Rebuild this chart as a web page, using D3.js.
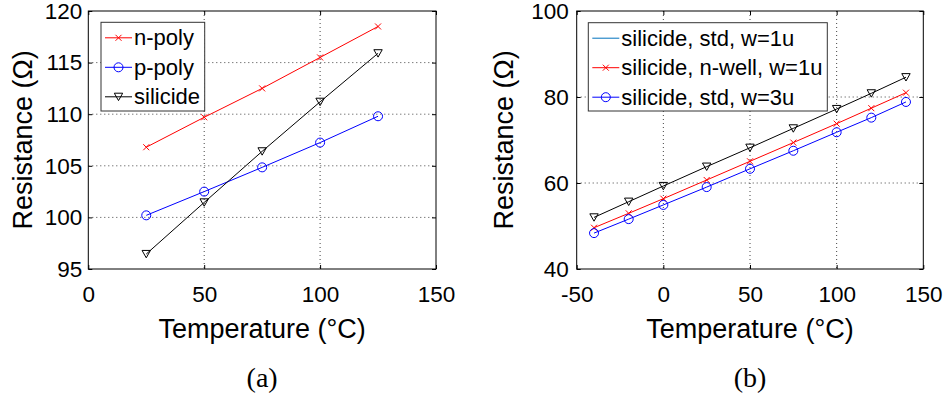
<!DOCTYPE html>
<html lang="en">
<head>
    <meta charset="UTF-8">
    <title>resistance-vs-temperature</title>
    <style>
        body {
            margin: 0;
            background: white;
        }
        svg text {
            font-family: "Liberation Sans", Arial, Helvetica, sans-serif;
            fill: #000;
        }
        .caption {
            font-family: "Liberation Serif", "DejaVu Serif", serif !important;
        }
    </style>
    <script src="https://d3js.org/d3.v7.min.js"></script>
</head>
<body>
<script>

    // ---- data ----
    let tempA = [25, 50, 75, 100, 125];
    let nPoly = [106.8, 109.7, 112.5, 115.5, 118.5];
    let pPoly = [100.2, 102.5, 104.85, 107.25, 109.8];
    let silicideA = [96.45, 101.45, 106.4, 111.2, 115.9];

    let tempB = [-40, -20, 0, 25, 50, 75, 100, 120, 140];
    let stdW1 = [52.0, 55.65, 59.3, 63.8, 68.2, 72.7, 77.2, 80.85, 84.6];
    let nwellW1 = [49.6, 52.95, 56.35, 60.7, 65.05, 69.4, 73.8, 77.4, 81.0];
    let stdW3 = [48.35, 51.6, 54.9, 59.05, 63.3, 67.5, 71.8, 75.2, 78.85];

    let xTicksA = [0, 50, 100, 150];
    let yTicksA = [95, 100, 105, 110, 115, 120];
    let xTicksB = [-50, 0, 50, 100, 150];
    let yTicksB = [40, 60, 80, 100];

    let width = 947;
    let height = 400;

    let svg = d3.select("body").append("svg")
        .attr("width", width)
        .attr("height", height);

    svg.append("rect")
        .attr("width", width)
        .attr("height", height)
        .attr("fill", "white");

    // plain hyphen for negatives, like the original
    let plainFormat = function (d) { return String(d); };

    // draws one marker shape at (0,0) inside group g
    function drawMarker(g, type, color) {
        if (type === "x") {
            g.append("path")
                .attr("d", "M-3,-3L3,3M-3,3L3,-3")
                .attr("stroke", color)
                .attr("stroke-width", 1)
                .attr("fill", "none");
        } else if (type === "o") {
            g.append("circle")
                .attr("r", 4.5)
                .attr("stroke", color)
                .attr("stroke-width", 1)
                .attr("fill", "none");
        } else if (type === "v") {
            g.append("path")
                .attr("d", "M-4.2,-3.6L4.2,-3.6L0,3.8Z")
                .attr("stroke", color)
                .attr("stroke-width", 1)
                .attr("fill", "none");
        }
    }

    function panel(opt) {
        let x = d3.scaleLinear().domain(opt.xDomain).range([opt.left, opt.right]);
        let y = d3.scaleLinear().domain(opt.yDomain).range([opt.bottom, opt.top]);
        let g = svg.append("g");

        // grid (dotted)
        g.selectAll(".gx")
            .data(opt.xTicks.filter(function (d) { return d !== opt.xDomain[0] && d !== opt.xDomain[1]; }))
            .enter().append("line")
            .attr("x1", function (d) { return x(d); })
            .attr("x2", function (d) { return x(d); })
            .attr("y1", opt.top)
            .attr("y2", opt.bottom)
            .attr("stroke", "#444")
            .attr("stroke-width", 1)
            .attr("stroke-dasharray", "1,3");
        g.selectAll(".gy")
            .data(opt.yTicks.filter(function (d) { return d !== opt.yDomain[0] && d !== opt.yDomain[1]; }))
            .enter().append("line")
            .attr("y1", function (d) { return y(d); })
            .attr("y2", function (d) { return y(d); })
            .attr("x1", opt.left)
            .attr("x2", opt.right)
            .attr("stroke", "#444")
            .attr("stroke-width", 1)
            .attr("stroke-dasharray", "1,3");

        // axes with inward ticks
        let fontSize = "22.5px";
        let bottomAxis = g.append("g")
            .attr("transform", "translate(0," + opt.bottom + ")")
            .call(d3.axisBottom(x).tickValues(opt.xTicks).tickSize(-4).tickPadding(17).tickFormat(plainFormat));
        let topAxis = g.append("g")
            .attr("transform", "translate(0," + opt.top + ")")
            .call(d3.axisTop(x).tickValues(opt.xTicks).tickSize(-4).tickFormat(""));
        let leftAxis = g.append("g")
            .attr("transform", "translate(" + opt.left + ",0)")
            .call(d3.axisLeft(y).tickValues(opt.yTicks).tickSize(-4).tickPadding(opt.yPad).tickFormat(plainFormat));
        let rightAxis = g.append("g")
            .attr("transform", "translate(" + opt.right + ",0)")
            .call(d3.axisRight(y).tickValues(opt.yTicks).tickSize(-4).tickFormat(""));

        [bottomAxis, topAxis, leftAxis, rightAxis].forEach(function (a) {
            a.select(".domain").remove();
            a.selectAll("line").attr("stroke", "#000");
            a.selectAll("text")
                .style("font-size", fontSize)
                .style("font-family", "'Liberation Sans', Arial, sans-serif")
                .attr("fill", "#000");
        });

        // box
        g.append("rect")
            .attr("x", opt.left)
            .attr("y", opt.top)
            .attr("width", opt.right - opt.left)
            .attr("height", opt.bottom - opt.top)
            .attr("fill", "none")
            .attr("stroke", "#000")
            .attr("stroke-width", 1);

        // series
        let line = d3.line()
            .x(function (d) { return x(d[0]); })
            .y(function (d) { return y(d[1]); });

        opt.series.forEach(function (s) {
            let pts = opt.xs.map(function (t, i) { return [t, s.values[i]]; });
            g.append("path")
                .datum(pts)
                .attr("d", line)
                .attr("fill", "none")
                .attr("stroke", s.color)
                .attr("stroke-width", 1);
            pts.forEach(function (p) {
                let m = g.append("g").attr("transform", "translate(" + x(p[0]) + "," + y(p[1]) + ")");
                drawMarker(m, s.marker, s.color);
            });
        });

        // legend
        let lg = g.append("g");
        lg.append("rect")
            .attr("x", opt.legend.x)
            .attr("y", opt.legend.y)
            .attr("width", opt.legend.w)
            .attr("height", opt.legend.h)
            .attr("fill", "white")
            .attr("stroke", "#333")
            .attr("stroke-width", 1);
        opt.series.forEach(function (s, i) {
            let ly = opt.legend.y + 15.5 + i * 29.5;
            let lx0 = opt.legend.x + 4;
            let lx1 = lx0 + 27;
            lg.append("line")
                .attr("x1", lx0).attr("x2", lx1)
                .attr("y1", ly).attr("y2", ly)
                .attr("stroke", s.legendColor || s.color)
                .attr("stroke-width", 1);
            if (s.legendMarker !== false) {
                let m = lg.append("g").attr("transform", "translate(" + (lx0 + lx1) / 2 + "," + ly + ")");
                drawMarker(m, s.marker, s.color);
            }
            lg.append("text")
                .attr("x", lx1 + 2)
                .attr("y", ly + 7.5)
                .style("font-size", "22px")
                .text(s.name);
        });

        // axis labels
        let cx = (opt.left + opt.right) / 2;
        g.append("text")
            .attr("x", cx)
            .attr("y", 338)
            .attr("text-anchor", "middle")
            .style("font-size", "27px")
            .text("Temperature (°C)");
        g.append("text")
            .attr("transform", "translate(" + opt.yLabelX + "," + (opt.top + opt.bottom) / 2 + ") rotate(-90)")
            .attr("text-anchor", "middle")
            .style("font-size", "27px")
            .text("Resistance (Ω)");
        g.append("text")
            .attr("class", "caption")
            .attr("x", cx)
            .attr("y", 387)
            .attr("text-anchor", "middle")
            .style("font-size", "28px")
            .text(opt.caption);
    }

    panel({
        left: 88.3, right: 436, top: 11, bottom: 269,
        xDomain: [0, 150], yDomain: [95, 120],
        xTicks: xTicksA, yTicks: yTicksA,
        yPad: 6, yLabelX: 31.5,
        xs: tempA,
        series: [
            {name: "n-poly", values: nPoly, color: "#ff0000", marker: "x"},
            {name: "p-poly", values: pPoly, color: "#0000ff", marker: "o"},
            {name: "silicide", values: silicideA, color: "#000000", marker: "v"}
        ],
        legend: {x: 101, y: 22.3, w: 103.7, h: 88.7},
        caption: "(a)"
    });

    panel({
        left: 576.7, right: 923.3, top: 11, bottom: 269,
        xDomain: [-50, 150], yDomain: [40, 100],
        xTicks: xTicksB, yTicks: yTicksB,
        yPad: 8, yLabelX: 513,
        xs: tempB,
        series: [
            {name: "silicide, std, w=1u", values: stdW1, color: "#000000", marker: "v",
                legendColor: "#0072bd", legendMarker: false},
            {name: "silicide, n-well, w=1u", values: nwellW1, color: "#ff0000", marker: "x"},
            {name: "silicide, std, w=3u", values: stdW3, color: "#0000ff", marker: "o"}
        ],
        legend: {x: 588.3, y: 22.7, w: 239, h: 88.3},
        caption: "(b)"
    });

</script>
</body>
</html>
